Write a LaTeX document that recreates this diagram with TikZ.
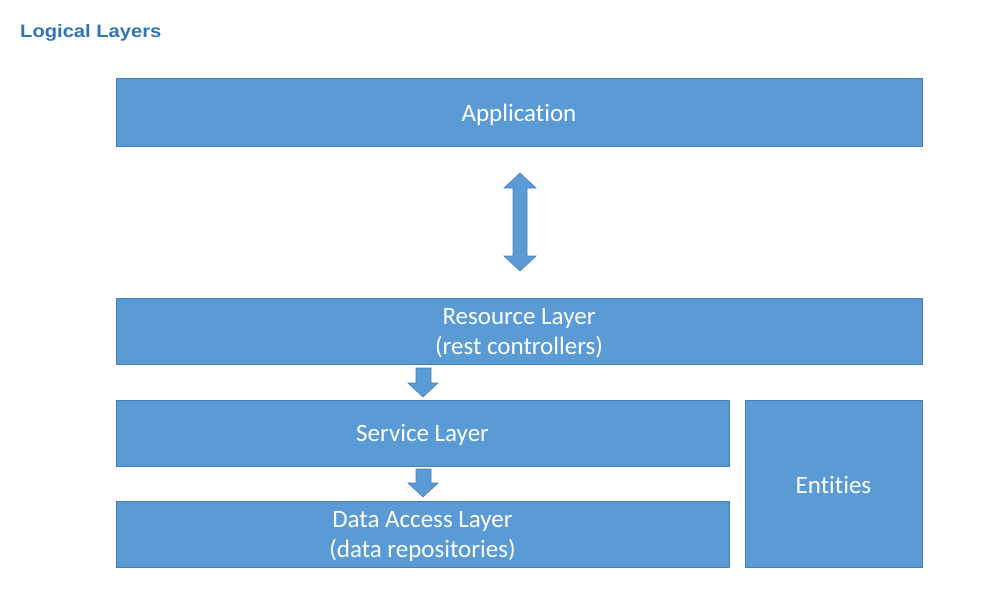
\documentclass[tikz,border=0pt]{standalone}
\usepackage{fontspec}
\setmainfont{Carlito}[RawFeature=-liga]
\newfontfamily\titlefont{Liberation Sans}
\definecolor{boxfill}{HTML}{5B9BD5}
\definecolor{boxline}{HTML}{4A7FB5}
\definecolor{titleblue}{HTML}{2E75B6}
\tikzset{
  layer/.style={draw=boxline, line width=0.8pt, fill=boxfill, inner sep=0pt},
  lbl/.style={text=white, font=\fontsize{25}{30}\selectfont, align=center, inner sep=0pt},
  bigarrow/.style={draw=boxline, line width=0.6pt, fill=boxfill}
}
\begin{document}
\begin{tikzpicture}[x=1pt,y=-1pt]
\useasboundingbox (0,0) rectangle (993,592);
\node[anchor=base west, text=titleblue, font=\titlefont\bfseries\fontsize{18}{22}\selectfont, inner sep=0pt, xscale=1.12] (title) at (20,37) {Logical Layers};
% boxes
\node[layer, minimum width=806pt, minimum height=68pt] (app) at (519,112) {};
\node[layer, minimum width=806pt, minimum height=66pt] (res) at (519,331) {};
\node[layer, minimum width=613pt, minimum height=66pt] (svc) at (422.5,433) {};
\node[layer, minimum width=613pt, minimum height=66pt] (dal) at (422.5,534) {};
\node[layer, minimum width=177pt, minimum height=167pt] (ent) at (833.5,483.5) {};
% labels
\node[lbl] (appl) at ([yshift=-3pt]app.center) {Application};
\node[lbl] (resl) at ([yshift=-2pt]res.center) {Resource Layer\\(rest controllers)};
\node[lbl] (svcl) at ([yshift=-2pt]svc.center) {Service Layer};
\node[lbl] (dall) at ([yshift=-2pt]dal.center) {Data Access Layer\\(data repositories)};
\node[lbl] (entl) at ([yshift=-1pt]ent.center) {Entities};
% double arrow between app and res
\coordinate (da1) at (520,173);
\coordinate (da2) at (520,271);
\draw[bigarrow] (da1) -- ++(16,15) -- ++(-9,0) -- ++(0,68) -- ++(9,0) -- (da2) -- ++(-16,-15) -- ++(9,0) -- ++(0,-68) -- ++(-9,0) -- cycle;
% down arrow res -> svc
\coordinate (a1) at (423,397);
\draw[bigarrow] (a1) -- ++(15,-14) -- ++(-7,0) -- ++(0,-15) -- ++(-15,0) -- ++(0,15) -- ++(-8,0) -- cycle;
% down arrow svc -> dal
\coordinate (a2) at (423,497);
\draw[bigarrow] (a2) -- ++(15,-14) -- ++(-7,0) -- ++(0,-14) -- ++(-15,0) -- ++(0,14) -- ++(-8,0) -- cycle;
\end{tikzpicture}
\end{document}
